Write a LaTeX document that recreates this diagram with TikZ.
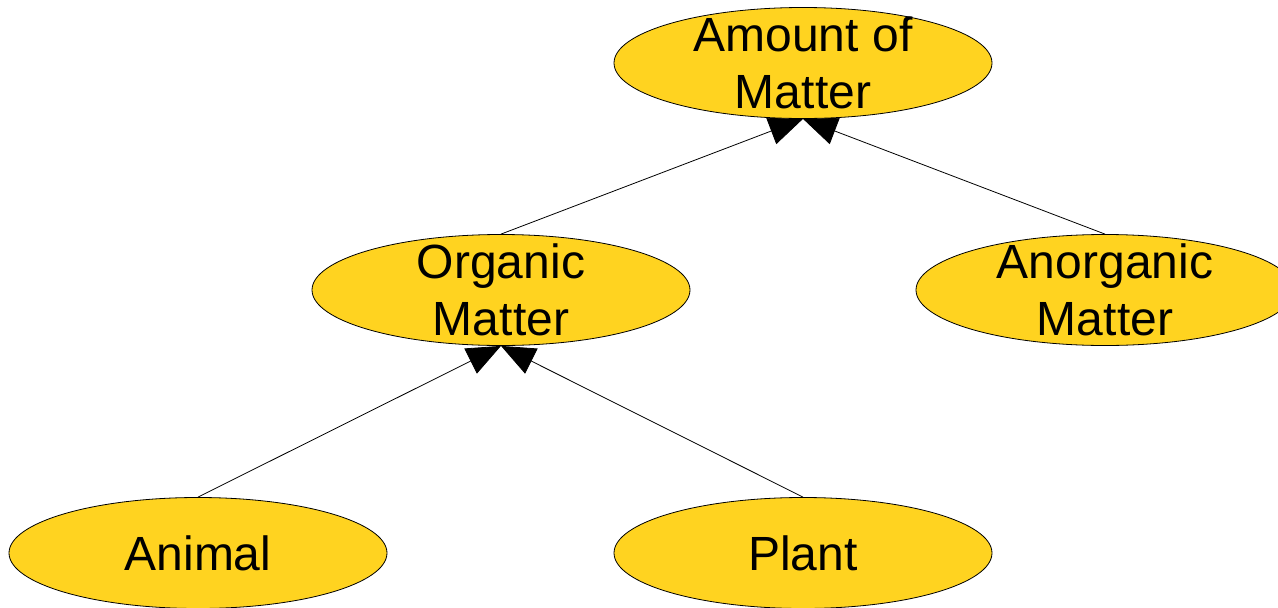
\documentclass[tikz,border=0pt]{standalone}
\usepackage{fontspec}
\setmainfont{Liberation Sans}
\usetikzlibrary{shapes.geometric,arrows.meta,backgrounds}
\definecolor{matteryellow}{RGB}{255,211,32}

\tikzset{
  matter/.style={ellipse, draw, line width=0.8pt, fill=matteryellow,
    minimum width=378pt, minimum height=111pt, inner xsep=0pt, inner ysep=-16pt,
    align=center, font=\fontsize{48}{57}\selectfont},
  arr/.style={line width=0.8pt, -{Triangle[length=34pt,width=28pt]}}
}

\begin{document}
\begin{tikzpicture}[x=1pt,y=-1pt]
  \useasboundingbox (0,0) rectangle (1278,608);
  % the tree of matter
  \node[matter] (amount) at (803,63) {Amount of\\Matter};
  \node[matter] (organic) at (501,290) {Organic\\Matter};
  \node[matter] (anorganic) at (1105,290) {Anorganic\\Matter};
  \node[matter] (animal) at (198,553) {Animal};
  \node[matter] (plant) at (803,553) {Plant};

  \begin{scope}[on background layer]
    \draw[arr] (organic.north) -- (amount.south);
    \draw[arr] (anorganic.north) -- (amount.south);
    \draw[arr] (animal.north) -- (organic.south);
    \draw[arr] (plant.north) -- (organic.south);
  \end{scope}
\end{tikzpicture}
\end{document}
